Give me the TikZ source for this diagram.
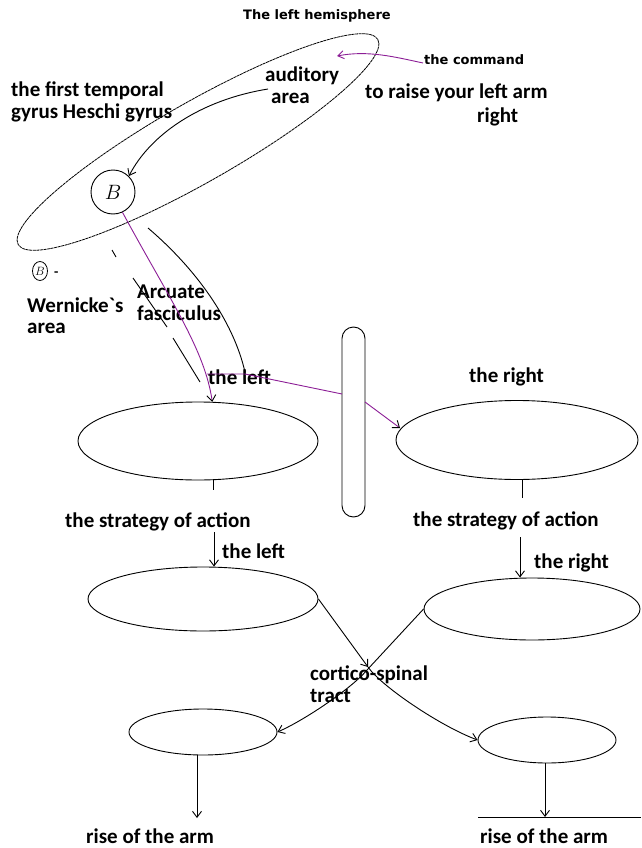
\documentclass[tikz,border=0pt]{standalone}
\usepackage{fontspec}
\setmainfont{Carlito}
\newfontfamily\smallfont{DejaVu Sans}
\usetikzlibrary{arrows.meta,shapes.geometric}
\definecolor{cmdpurple}{RGB}{140,30,150}

\begin{document}
\begin{tikzpicture}[x=1pt,y=-1pt,
  lbl/.style={font=\fontsize{21}{21}\selectfont\bfseries, anchor=base west, inner sep=0pt},
  sml/.style={font=\smallfont\fontsize{13}{13}\selectfont\bfseries, anchor=base west, inner sep=0pt},
  ln/.style={line width=0.9pt},
  tip/.style={-{Straight Barb[length=6pt,width=9pt]}},
  arr/.style={ln, tip},
  oval/.style={draw, line width=0.9pt, ellipse, inner sep=0pt},
  cmd/.style={draw=cmdpurple, line width=0.9pt},
]
\useasboundingbox (0,0) rectangle (641,848);

% ---- left hemisphere (temporal lobe) ----
\node[sml] (title) at (243,20) {The left hemisphere};
\node[draw, ellipse, line width=0.8pt, dash pattern=on 3pt off 0.6pt,
      minimum width=414pt, minimum height=80pt, rotate=29.7, inner sep=0pt]
      (hemi) at (198,142) {};
\node[draw, circle, line width=0.9pt, minimum size=44pt, inner sep=0pt,
      font=\fontsize{21}{21}\selectfont] (B) at (113,192) {$B$};

\node[lbl] (gyrus1) at (11,97) {the first temporal};
\node[lbl] (gyrus2) at (11,118) {gyrus Heschi gyrus};
\node[lbl] (aud1) at (265,82) {auditory};
\node[lbl] (aud2) at (271,103) {area};

\node[sml] (command) at (424,65) {the command};
\node[lbl] (raise1) at (365,99) {to raise your left arm};
\node[lbl] (raise2) at (477,122) {right};

% command enters the auditory area
\coordinate (cmdsrc) at (423,63);
\coordinate (cmddst) at (337,56);
\draw[cmd, -{Straight Barb[length=6pt,width=8pt]}] (cmdsrc) .. controls (395,57) and (368,50) .. (cmddst);

% auditory area -> Wernicke's area
\coordinate (audsrc) at (268,89);
\draw[arr] (audsrc) .. controls (200,100) and (150,135) .. (B.north east);

% Wernicke's area legend
\node[draw, ellipse, line width=0.8pt, minimum width=15pt, minimum height=19pt, inner sep=0pt,
      font=\fontsize{13}{13}\selectfont] (Bsmall) at (40,271) {$B$};
\node[lbl, font=\fontsize{14}{14}\selectfont\bfseries] (dash) at (54,276) {-};
\node[lbl] (wern1) at (27,312) {Wernicke\textasciigrave s};
\node[lbl] (wern2) at (27,333) {area};

% arcuate fasciculus
\draw[ln] (148,228) .. controls (195,268) and (233,320) .. (245,372);
\draw[ln] (112,250) -- (116,257);
\draw[ln] (133,278) -- (167,327);
\draw[ln] (173,338) -- (200,382);
\node[lbl] (arc1) at (137,298) {Arcuate};
\node[lbl] (arc2) at (137,320) {fasciculus};

% ---- strategy of action ----
\node[oval, minimum width=240pt, minimum height=78pt] (midL) at (198,441) {};
\node[oval, minimum width=242pt, minimum height=79pt] (midR) at (517,440) {};
\node[draw, line width=0.9pt, fill=white, rounded corners=11.5pt,
      minimum width=23pt, minimum height=190pt, inner sep=0pt] (pill) at (353.5,422) {};

\node[lbl] (leftU) at (208,384) {the left};
\node[lbl] (rightU) at (469,382) {the right};

% command path: Wernicke -> left, and across to the right
\draw[cmd, -{Straight Barb[length=6pt,width=9pt,color=black]}]
  (B.-65) .. controls (170,300) and (205,350) .. (midL.70);
\coordinate (br1) at (207,374);
\coordinate (br2) at (245,374);
\coordinate (br3) at (342,394);
\coordinate (br4) at (365,402);
\coordinate (rin) at (400,428);
\draw[cmd] (br1) -- (br2) -- (br3);
\draw[cmd, -{Straight Barb[length=6pt,width=9pt,color=black]}] (br4) -- (rin);

\draw[ln] (213,479.5) -- (213,490);
\draw[ln] (522,479.5) -- (522,498);

\node[lbl] (stratL) at (65,527) {the strategy of action};
\node[lbl] (stratR) at (413,526) {the strategy of action};

% ---- motor areas ----
\node[oval, minimum width=230pt, minimum height=64pt] (actL) at (203,599) {};
\node[oval, minimum width=216pt, minimum height=62pt] (actR) at (532,609) {};

\coordinate (sL) at (214,532);
\coordinate (sR) at (520,537);
\draw[arr] (sL) -- (actL.north -| sL);
\draw[arr] (sR) -- (actR.north -| sR);
\node[lbl] (leftL) at (222,558) {the left};
\node[lbl] (rightL) at (534,568) {the right};

% cortico-spinal tract (crossing)
\node[oval, minimum width=148pt, minimum height=46pt] (armL) at (203,732) {};
\node[oval, minimum width=138pt, minimum height=46pt] (armR) at (547,740) {};

\coordinate (xl) at (368,667);
\coordinate (xr) at (367,670);
\draw[arr] (actL.east) -- (xl);
\draw[arr] (xl) .. controls (381,686) and (440,726) .. (armR.west);
\draw[arr] (actR.west) -- (xr) .. controls (352,688) and (305,720) .. (armL.east);

\node[lbl] (cort1) at (310,680) {cortico-spinal};
\node[lbl] (cort2) at (310,702) {tract};

% ---- result ----
\coordinate (dL) at (197,818);
\coordinate (dR) at (545,817);
\draw[arr] (armL.south -| dL) -- (dL);
\draw[arr] (armR.south -| dR) -- (dR);
\coordinate (hl) at (478,817);
\coordinate (hr) at (641,817);
\draw[ln] (hl) -- (hr);

\node[lbl] (riseL) at (86,843) {rise of the arm};
\node[lbl] (riseR) at (480,843) {rise of the arm};
\end{tikzpicture}
\end{document}
